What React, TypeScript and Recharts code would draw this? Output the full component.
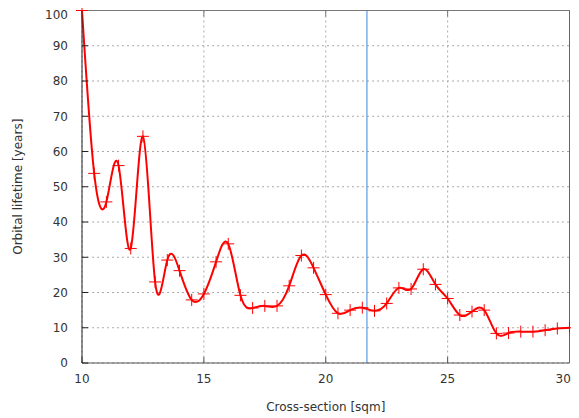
import React from "react";
import {
  LineChart,
  Line,
  XAxis,
  YAxis,
  CartesianGrid,
  ReferenceLine,
} from "recharts";

// cross-section samples (sqm) and orbital lifetime (years)
const crossSection = [
  10, 10.5, 11, 11.5, 12, 12.5, 13, 13.5, 14, 14.5, 15, 15.5, 16, 16.5, 17,
  17.5, 18, 18.5, 19, 19.5, 20, 20.5, 21, 21.5, 22, 22.5, 23, 23.5, 24, 24.5,
  25, 25.5, 26, 26.5, 27, 27.5, 28, 28.5, 29, 29.5, 30,
];
const lifetime = [
  100, 53.8, 45.7, 56, 32.5, 64.3, 23, 29.2, 26.2, 17.9, 19.6, 28.7, 33.8,
  19.2, 15.6, 16.2, 16.2, 21.9, 30.5, 27, 19.4, 14.1, 15, 15.7, 14.8, 16.9,
  21.3, 21, 26.6, 22.3, 18.3, 13.6, 14.6, 15, 8.4, 8.5, 8.9, 8.9, 9.3, 9.8,
  10,
];
const xTicks = [10, 15, 20, 25, 30];
const yTicks = [0, 10, 20, 30, 40, 50, 60, 70, 80, 90, 100];
const markerX = 21.69;

const data = crossSection.map((x, i) => ({ x, y: lifetime[i] }));

const W = 563;
const H = 410;

function Plus(props: any) {
  const { cx, cy, index } = props;
  if (cx == null || cy == null) return <g key={index} />;
  return (
    <path
      key={index}
      d={`M${cx - 6},${cy}H${cx + 6}M${cx},${cy - 6}V${cy + 6}`}
      stroke="#ff0000"
      strokeWidth={1}
      fill="none"
    />
  );
}

// tick labels kept inside the drawing area
function XTick(props: any) {
  const { x, y, payload } = props;
  const half = String(payload.value).length * 3.9;
  const tx = Math.min(x, W - half);
  return (
    <text x={tx} y={y} dy="0.71em" textAnchor="middle" fill="#333" fontSize={12}>
      {payload.value}
    </text>
  );
}

function YTick(props: any) {
  const { x, y, payload } = props;
  return (
    <text x={x} y={Math.max(y, 7)} dy="0.355em" textAnchor="end" fill="#333" fontSize={12}>
      {payload.value}
    </text>
  );
}

const noTick = () => <g />;

export default function App() {
  return (
    <div style={{ fontFamily: "'DejaVu Sans', sans-serif" }}>
      <LineChart
        width={W}
        height={H}
        data={data}
        margin={{ top: 0, right: 0, bottom: 0, left: 0 }}
      >
        <CartesianGrid
          xAxisId="b"
          yAxisId="l"
          stroke="#aaa"
          strokeDasharray="2 3"
        />

        <XAxis
          xAxisId="b"
          dataKey="x"
          type="number"
          domain={[10, 30]}
          ticks={xTicks}
          height={55}
          tickSize={-6}
          tickMargin={17}
          stroke="#555"
          tick={XTick}
          interval={0}
          label={{
            value: "Cross-section [sqm]",
            position: "insideBottom",
            offset: 7,
            fill: "#333",
            fontSize: 12,
          }}
        />
        <XAxis
          xAxisId="t"
          orientation="top"
          dataKey="x"
          type="number"
          domain={[10, 30]}
          ticks={xTicks}
          height={2.5}
          tickSize={-6}
          stroke="#777"
          tick={noTick}
        />

        <YAxis
          yAxisId="l"
          type="number"
          domain={[0, 100]}
          ticks={yTicks}
          width={74}
          tickSize={-6}
          tickMargin={20}
          stroke="#222"
          tick={YTick}
          interval={0}
          label={{
            value: "Orbital lifetime [years]",
            angle: -90,
            position: "insideLeft",
            offset: 10,
            fill: "#333",
            fontSize: 12,
            style: { textAnchor: "middle" },
          }}
        />
        <YAxis
          yAxisId="r"
          orientation="right"
          type="number"
          domain={[0, 100]}
          ticks={yTicks}
          width={1.5}
          tickSize={-6}
          stroke="#666"
          tick={noTick}
        />

        <ReferenceLine
          xAxisId="b"
          yAxisId="l"
          x={markerX}
          stroke="#3c85dd"
          strokeWidth={1}
        />

        <Line
          xAxisId="b"
          yAxisId="l"
          type="natural"
          dataKey="y"
          stroke="#ff0000"
          strokeWidth={2}
          dot={Plus}
          activeDot={false}
          isAnimationActive={false}
        />
      </LineChart>
    </div>
  );
}
